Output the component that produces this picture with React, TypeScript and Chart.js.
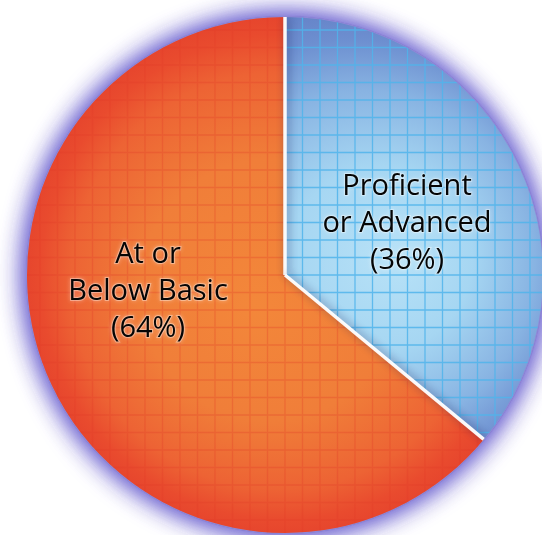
import React, { useEffect, useRef } from "react";
import { Chart, ArcElement, PieController } from "chart.js";

Chart.register(ArcElement, PieController);

const categories = ["Proficient or Advanced", "At or Below Basic"];
const values = [36, 64];
const labelLines = [
  ["Proficient", "or Advanced", `(${values[0]}%)`],
  ["At or", "Below Basic", `(${values[1]}%)`],
];

const gridPlugin = {
  id: "gridAndLabels",
  beforeDatasetsDraw(chart: any) {
    const meta = chart.getDatasetMeta(0);
    const a = meta.data[0];
    if (!a) return;
    const { x, y, outerRadius } = a;
    const ctx = chart.ctx;
    ctx.save();
    ctx.shadowColor = "rgba(100,90,205,0.95)";
    ctx.shadowBlur = 26;
    ctx.fillStyle = "#8f88d6";
    ctx.beginPath();
    ctx.arc(x, y, outerRadius + 1, 0, Math.PI * 2);
    ctx.fill();
    ctx.fill();
    ctx.restore();
  },
  afterDatasetsDraw(chart: any) {
    const meta = chart.getDatasetMeta(0);
    const ctx = chart.ctx;
    const gridColors = ["rgba(80,180,235,0.85)", "rgba(225,60,40,0.3)"];
    const step = 17.5;
    meta.data.forEach((arc: any, i: number) => {
      const { x, y, outerRadius, startAngle, endAngle } = arc;
      ctx.save();
      ctx.beginPath();
      ctx.moveTo(x, y);
      ctx.arc(x, y, outerRadius, startAngle, endAngle);
      ctx.closePath();
      ctx.clip();
      ctx.strokeStyle = gridColors[i];
      ctx.lineWidth = 1.3;
      ctx.beginPath();
      for (let k = -16; k <= 16; k++) {
        const gx = x + k * step;
        ctx.moveTo(gx, y - outerRadius);
        ctx.lineTo(gx, y + outerRadius);
        const gy = y + k * step;
        ctx.moveTo(x - outerRadius, gy);
        ctx.lineTo(x + outerRadius, gy);
      }
      ctx.stroke();
      ctx.restore();
    });
    const a0 = meta.data[0];
    if (!a0) return;
    ctx.save();
    ctx.beginPath();
    ctx.arc(a0.x, a0.y, a0.outerRadius, 0, Math.PI * 2);
    ctx.clip();
    meta.data.forEach((arc: any) => {
      const { x, y, outerRadius, startAngle } = arc;
      ctx.shadowColor = "rgba(20,20,80,0.5)";
      ctx.shadowBlur = 8;
      ctx.shadowOffsetX = 2;
      ctx.strokeStyle = "rgba(255,255,255,0.95)";
      ctx.lineWidth = 3.5;
      ctx.beginPath();
      ctx.moveTo(x, y);
      ctx.lineTo(x + Math.cos(startAngle) * outerRadius, y + Math.sin(startAngle) * outerRadius);
      ctx.stroke();
    });
    ctx.restore();
  },
  afterDraw(chart: any) {
    const meta = chart.getDatasetMeta(0);
    const a0 = meta.data[0];
    if (!a0) return;
    const ctx = chart.ctx;
    const offsets = [
      [122, -51],
      [-137, 17],
    ];
    const lh = 37;
    ctx.save();
    ctx.font = "500 29px 'Open Sans', 'Noto Sans', sans-serif";
    ctx.textAlign = "center";
    ctx.textBaseline = "middle";
    labelLines.forEach((lines, i) => {
      const cx = a0.x + offsets[i][0];
      const cy = a0.y + offsets[i][1];
      lines.forEach((t, j) => {
        const ty = cy + (j - 1) * lh;
        ctx.shadowColor = "rgba(255,255,255,0.9)";
        ctx.shadowBlur = 4;
        ctx.strokeStyle = "rgba(255,255,255,0.35)";
        ctx.lineWidth = 2;
        ctx.strokeText(t, cx, ty);
        ctx.shadowBlur = 0;
        ctx.fillStyle = "#050505";
        ctx.fillText(t, cx, ty);
      });
    });
    ctx.restore();
  },
};

function sliceFill(c: any) {
  const index = c.dataIndex;
  const chart = c.chart;
  const area = chart.chartArea;
  const fallback = index === 0 ? "#9ccdef" : "#f07838";
  if (!area) return fallback;
  const cx = (area.left + area.right) / 2;
  const cy = (area.top + area.bottom) / 2;
  const r = Math.min(area.right - area.left, area.bottom - area.top) / 2;
  const ctx = chart.ctx;
  if (index === 0) {
    const g = ctx.createRadialGradient(cx + 115, cy - 20, 0, cx + 60, cy - 10, r * 1.02);
    g.addColorStop(0, "#b8e2f7");
    g.addColorStop(0.35, "#a6d6f2");
    g.addColorStop(0.65, "#88b3e2");
    g.addColorStop(0.85, "#6d8fd0");
    g.addColorStop(1, "#6380c6");
    return g;
  }
  const g = ctx.createRadialGradient(cx - 30, cy + 30, 0, cx, cy, r * 1.01);
  g.addColorStop(0, "#f3873a");
  g.addColorStop(0.5, "#f07e39");
  g.addColorStop(0.8, "#ed6334");
  g.addColorStop(0.93, "#e94b2e");
  g.addColorStop(1, "#e6452d");
  return g;
}

export default function App() {
  const ref = useRef<HTMLCanvasElement | null>(null);
  useEffect(() => {
    document.body.style.margin = "0";
    if (!ref.current) return;
    const chart = new Chart(ref.current, {
      type: "pie",
      data: {
        labels: categories,
        datasets: [
          {
            data: values,
            backgroundColor: sliceFill as any,
            borderWidth: 0,
          },
        ],
      },
      options: {
        animation: false,
        responsive: true,
        maintainAspectRatio: false,
        layout: { padding: 17 },
        plugins: { legend: { display: false }, tooltip: { enabled: false } } as any,
        events: [],
      },
      plugins: [gridPlugin],
    });
    return () => chart.destroy();
  }, []);
  return (
    <div style={{ width: 542, height: 535, overflow: "hidden", position: "relative", background: "#fff" }}>
      <div style={{ position: "absolute", left: 0, top: 0, width: 570, height: 550 }}>
        <canvas ref={ref} />
      </div>
    </div>
  );
}
